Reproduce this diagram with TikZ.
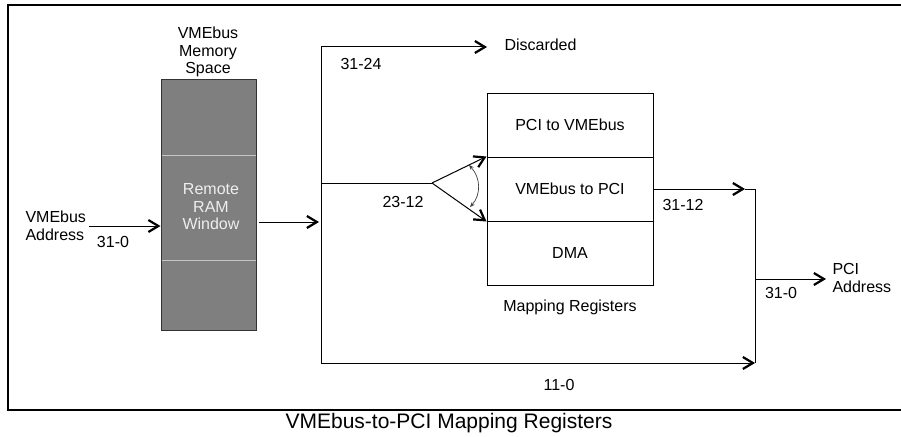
\documentclass[tikz,border=0pt]{standalone}
\usepackage{fontspec}
\setmainfont{Liberation Sans}
\usetikzlibrary{arrows.meta}

\definecolor{memgray}{HTML}{7F7F7F}
\definecolor{sepgray}{HTML}{C4C4C4}
\definecolor{wintext}{HTML}{EEEEEE}

\tikzset{
  lbl/.style={font=\fontsize{16}{17.5}\selectfont, inner sep=0pt},
  arr/.style={-{Straight Barb[length=10pt,width=12pt,line width=2.2pt]}},
  regbox/.style={draw, minimum width=166pt, minimum height=64pt, inner sep=0pt,
    font=\fontsize{16}{17.5}\selectfont},
}

\begin{document}
\begin{tikzpicture}[x=1pt,y=-1pt,line width=1pt]
\useasboundingbox (0,0) rectangle (901,436);
% frame
\draw[line width=2.4pt] (901,5) -- (8,5) -- (8,410) -- (901,410);

% VMEbus memory space
\node[draw=black!80, fill=memgray, minimum width=95pt, minimum height=251pt, inner sep=0pt] (mem) at (208.5,204.5) {};
\draw[sepgray] (161.5,155) -- (255.5,155);
\draw[sepgray] (161.5,260) -- (255.5,260);
\node[lbl, align=center, anchor=south] (memtitle) at (208,77.5) {VMEbus\\Memory\\Space};
\node[lbl, align=center, text=wintext] (win) at (211,207) {Remote\\RAM\\Window};

% input
\node[lbl, align=left, anchor=west] (vmeaddr) at (25,226) {VMEbus\\Address};
\node[lbl] (b310a) at (113,242) {31-0};
\draw[arr] ([xshift=3pt]vmeaddr.east) -- (vmeaddr.east -| mem.west);

% split of the address
\coordinate (split) at (321,222);
\coordinate (top) at (321,47);
\coordinate (bot) at (321,363);
\draw[arr] ([xshift=2pt]mem.east |- split) -- ([xshift=-2pt]split);
\draw (top) -- (bot);

\node[lbl, anchor=west] (disc) at (504,45) {Discarded};
\draw[arr] (top) -- ([xshift=-17pt]disc.west |- top);
\node[lbl] (b3124) at (361,64) {31-24};

% mapping registers
\node[regbox] (pv) at (570,125) {PCI to VMEbus};
\node[regbox] (vp) at (570,189) {VMEbus to PCI};
\node[regbox] (dma) at (570,253) {DMA};
\node[lbl] (maplbl) at (570,307) {Mapping Registers};

\coordinate (fork) at (432,183);
\draw (split |- fork) -- (fork);
\draw[arr] (fork) -- (vp.north west);
\draw[arr] (fork) -- (vp.south west);
\draw[black!75, line width=0.7pt, {Stealth[length=5pt,width=4pt]}-{Stealth[length=5pt,width=4pt]}]
  (469,165) .. controls (481,178) and (481,195) .. (470,207);
\node[lbl] (b2312) at (403,202) {23-12};

% output
\coordinate (c1) at (755,189);
\coordinate (tip1) at (745,189);
\coordinate (c2) at (755,363);
\coordinate (c3) at (755,279);
\draw[arr] (vp.east) -- (tip1);
\draw (tip1) -- (c1) -- (c2);
\node[lbl] (b3112) at (683,205) {31-12};
\draw[arr] (bot) -- (c2);
\node[lbl] (b110) at (559,385) {11-0};

\node[lbl, align=left, anchor=west] (pciaddr) at (832,278) {PCI\\Address};
\draw[arr] (c3) -- ([xshift=-6pt]pciaddr.west |- c3);
\node[lbl] (b310b) at (781,293) {31-0};

% caption
\node[font=\fontsize{21}{24}\selectfont, inner sep=0pt] (caption) at (449,423) {VMEbus-to-PCI Mapping Registers};
\end{tikzpicture}
\end{document}
